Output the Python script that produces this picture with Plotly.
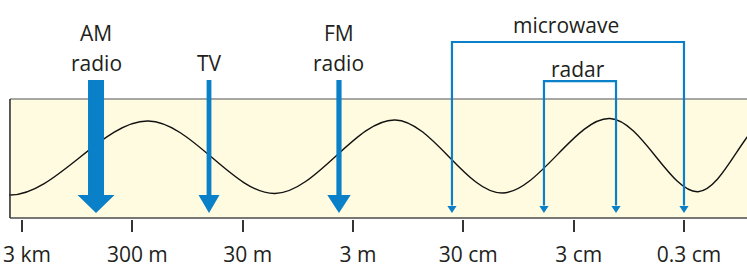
import plotly.graph_objects as go

# ---------------- data ----------------
tick_labels = ["3 km", "300 m", "30 m", "3 m", "30 cm", "3 cm", "0.3 cm"]
tick_positions = [0, 1, 2, 3, 4, 5, 6]          # decades of wavelength

band_line1 = ["AM", "", "FM"]
band_line2 = ["radio", "TV", "radio"]
band_x = [0.671, 1.695, 2.873]                   # position on wavelength scale
band_shaft_halfwidth_px = [8.0, 2.4, 2.6]
band_head_halfwidth_px = [18.5, 10.5, 11.7]

range_names = ["microwave", "radar"]
range_start = [3.897, 4.731]
range_end = [6.0, 5.384]
range_top = [1.479, 1.151]                       # bracket height (box units)

# wave extrema (x in decades, y in box units); first and last lie outside the box
wave_x = [-1.26, -0.109, 1.142, 2.293, 3.381, 4.351, 5.329, 6.127, 6.789, 7.40]
wave_y = [0.81, 0.193, 0.815, 0.206, 0.824, 0.210, 0.836, 0.221, 0.84, 0.22]

# ---------------- layout constants ----------------
W, H = 747, 267
ML, MB = 9, 48
PX_X = 110.33                                   # pixels per decade
X_RANGE = [(ML - 22) / PX_X, (W - 22) / PX_X]
PLOT_H = H - MB
Y_RANGE = [-1 / 119, (PLOT_H - 1) / 119]
PX_Y = PLOT_H / (Y_RANGE[1] - Y_RANGE[0])

BOX_LEFT = -0.109
BLUE = "#0a80c8"
TEXT = "#231f20"
FONT = "Open Sans"
FS = 21

SHAFT_TOP = 1.160
HEAD_BASE = 0.193
TIP = 0.042
SMALL_HEAD_BASE = 0.101
SMALL_HEAD_HW_PX = 4.6

fig = go.Figure()

fig.add_trace(go.Scatter(
    x=wave_x, y=wave_y, mode="lines",
    line=dict(color="#111111", width=1.4, shape="spline", smoothing=1.0),
    hoverinfo="skip", showlegend=False,
))

shapes = []
# background box
shapes.append(dict(type="rect", xref="x", yref="y", x0=BOX_LEFT, x1=X_RANGE[1] + 1,
                   y0=0, y1=1, fillcolor="#fffbe0", line=dict(width=0), layer="below"))
shapes.append(dict(type="line", xref="x", yref="y", x0=BOX_LEFT, x1=X_RANGE[1] + 1,
                   y0=1, y1=1, line=dict(color="#8a8a8a", width=1.5), layer="below"))
shapes.append(dict(type="line", xref="x", yref="y", x0=BOX_LEFT, x1=X_RANGE[1] + 1,
                   y0=0, y1=0, line=dict(color="#777777", width=2), layer="below"))
shapes.append(dict(type="line", xref="x", yref="y", x0=BOX_LEFT, x1=BOX_LEFT,
                   y0=0, y1=1, line=dict(color="#333333", width=1.6), layer="above"))

# band arrows
for x, sw_px, hw_px in zip(band_x, band_shaft_halfwidth_px, band_head_halfwidth_px):
    sw = sw_px / PX_X
    hw = hw_px / PX_X
    path = (f"M{x - sw},{SHAFT_TOP} L{x + sw},{SHAFT_TOP} L{x + sw},{HEAD_BASE} "
            f"L{x + hw},{HEAD_BASE} L{x},{TIP} L{x - hw},{HEAD_BASE} L{x - sw},{HEAD_BASE} Z")
    shapes.append(dict(type="path", xref="x", yref="y", path=path,
                       fillcolor=BLUE, line=dict(width=0), layer="above"))

# range brackets
hw = SMALL_HEAD_HW_PX / PX_X
for x0, x1, top in zip(range_start, range_end, range_top):
    path = f"M{x0},{SMALL_HEAD_BASE + 0.005} L{x0},{top} L{x1},{top} L{x1},{SMALL_HEAD_BASE + 0.005}"
    shapes.append(dict(type="path", xref="x", yref="y", path=path,
                       line=dict(color=BLUE, width=2.2), layer="above"))
    for xx in (x0, x1):
        tri = f"M{xx - hw},{SMALL_HEAD_BASE} L{xx + hw},{SMALL_HEAD_BASE} L{xx},{TIP} Z"
        shapes.append(dict(type="path", xref="x", yref="y", path=tri,
                           fillcolor=BLUE, line=dict(width=0), layer="above"))

annotations = []
LINE1_Y = (PLOT_H - 1 - 33) / 119
LINE2_Y = (PLOT_H - 1 - 62.5) / 119
for x, l1, l2 in zip(band_x, band_line1, band_line2):
    if l1:
        annotations.append(dict(x=x, y=LINE1_Y, xref="x", yref="y", text=l1, showarrow=False,
                                xanchor="center", yanchor="middle",
                                font=dict(family=FONT, size=FS, color=TEXT)))
    annotations.append(dict(x=x, y=LINE2_Y, xref="x", yref="y", text=l2, showarrow=False,
                            xanchor="center", yanchor="middle",
                            font=dict(family=FONT, size=FS, color=TEXT)))

label_offsets_px = [17, 12]   # gap between label centre and bracket top
for name, x0, x1, top, off in zip(range_names, range_start, range_end, range_top, label_offsets_px):
    annotations.append(dict(x=(x0 + x1) / 2 - 0.015, y=top + off / PX_Y, xref="x", yref="y",
                            text=name, showarrow=False, xanchor="center", yanchor="middle",
                            font=dict(family=FONT, size=FS, color=TEXT)))

fig.update_layout(
    width=W, height=H,
    margin=dict(l=ML, r=0, t=0, b=MB, pad=0, autoexpand=False),
    paper_bgcolor="white", plot_bgcolor="white",
    shapes=shapes, annotations=annotations,
    showlegend=False,
    xaxis=dict(range=X_RANGE, tickvals=tick_positions, ticktext=tick_labels,
               ticks="outside", ticklen=12, tickwidth=2, tickcolor="#333333",
               showgrid=False, zeroline=False, showline=False, fixedrange=True,
               automargin=False,
               ticklabelstandoff=5, ticklabelshift=5,
               tickfont=dict(family=FONT, size=FS, color=TEXT)),
    yaxis=dict(range=Y_RANGE, visible=False, showgrid=False, zeroline=False, fixedrange=True,
               automargin=False),
)

fig.write_html("out.html", config={"displayModeBar": False},
               post_script="document.body.style.margin='0px';document.body.style.overflow='hidden';")
